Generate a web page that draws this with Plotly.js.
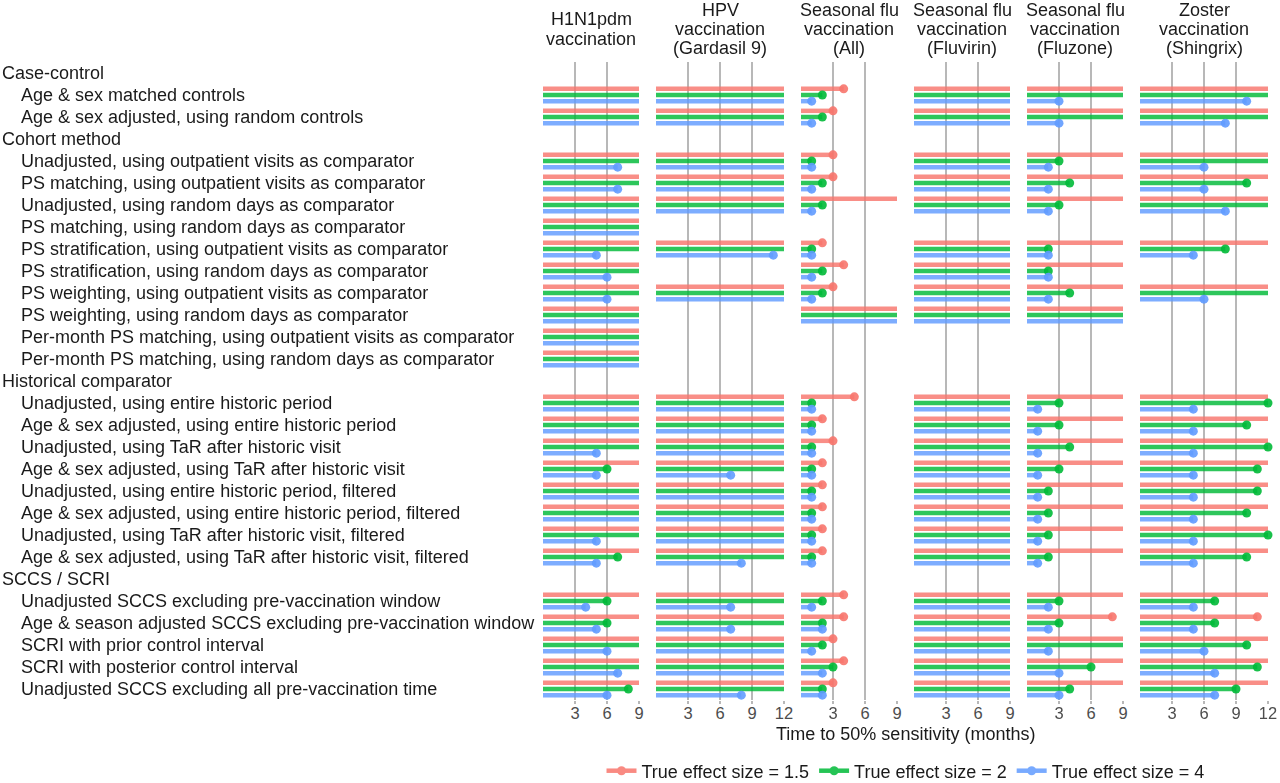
<!DOCTYPE html>
<html>
<head>
<meta charset="utf-8">
<script src="https://cdn.plot.ly/plotly-3.0.1.min.js"></script>
<style>
  html, body { margin: 0; padding: 0; background: #fff; }
  #chart { width: 1280px; height: 783px; }
</style>
</head>
<body>
<div id="chart"></div>
<script>
// NR = not reached inside the panel's follow-up, bar runs to the end with no dot
// NA = method not run for that vaccine
var NR = Infinity;
var NA = null;

var groups = ['Case-control', 'Cohort method', 'Historical comparator', 'SCCS / SCRI'];
var methods = [
  'Age & sex matched controls',
  'Age & sex adjusted, using random controls',
  'Unadjusted, using outpatient visits as comparator',
  'PS matching, using outpatient visits as comparator',
  'Unadjusted, using random days as comparator',
  'PS matching, using random days as comparator',
  'PS stratification, using outpatient visits as comparator',
  'PS stratification, using random days as comparator',
  'PS weighting, using outpatient visits as comparator',
  'PS weighting, using random days as comparator',
  'Per-month PS matching, using outpatient visits as comparator',
  'Per-month PS matching, using random days as comparator',
  'Unadjusted, using entire historic period',
  'Age & sex adjusted, using entire historic period',
  'Unadjusted, using TaR after historic visit',
  'Age & sex adjusted, using TaR after historic visit',
  'Unadjusted, using entire historic period, filtered',
  'Age & sex adjusted, using entire historic period, filtered',
  'Unadjusted, using TaR after historic visit, filtered',
  'Age & sex adjusted, using TaR after historic visit, filtered',
  'Unadjusted SCCS excluding pre-vaccination window',
  'Age & season adjusted SCCS excluding pre-vaccination window',
  'SCRI with prior control interval',
  'SCRI with posterior control interval',
  'Unadjusted SCCS excluding all pre-vaccination time'
];
var methodGroup = [0,0, 1,1,1,1,1,1,1,1,1,1, 2,2,2,2,2,2,2,2, 3,3,3,3,3];

var panelTitles = [
  'H1N1pdm<br>vaccination',
  'HPV<br>vaccination<br>(Gardasil 9)',
  'Seasonal flu<br>vaccination<br>(All)',
  'Seasonal flu<br>vaccination<br>(Fluvirin)',
  'Seasonal flu<br>vaccination<br>(Fluzone)',
  'Zoster<br>vaccination<br>(Shingrix)'
];
var panelMax = [9, 12, 9, 9, 9, 12];
var ticks9 = [3, 6, 9];
var ticks12 = [3, 6, 9, 12];

var effectNames = ['True effect size = 1.5', 'True effect size = 2', 'True effect size = 4'];
var colors = ['#F8766D', '#00BA38', '#619CFF'];

// months to 50% sensitivity, one entry per method
var h1n1_15 = [NR,NR, NR,NR,NR,NR,NR,NR,NR,NR,NR,NR, NR,NR,NR,NR,NR,NR,NR,NR, NR,NR,NR,NR,NR];
var h1n1_2  = [NR,NR, NR,NR,NR,NR,NR,NR,NR,NR,NR,NR, NR,NR,NR,6,NR,NR,NR,7, 6,6,NR,NR,8];
var h1n1_4  = [NR,NR, 7,7,NR,NR,5,6,6,NR,NR,NR, NR,NR,5,5,NR,NR,5,5, 4,5,6,7,6];

var hpv_15 = [NR,NR, NR,NR,NR,NA,NR,NA,NR,NA,NA,NA, NR,NR,NR,NR,NR,NR,NR,NR, NR,NR,NR,NR,NR];
var hpv_2  = [NR,NR, NR,NR,NR,NA,NR,NA,NR,NA,NA,NA, NR,NR,NR,NR,NR,NR,NR,NR, NR,NR,NR,NR,NR];
var hpv_4  = [NR,NR, NR,NR,NR,NA,11,NA,NR,NA,NA,NA, NR,NR,NR,7,NR,NR,NR,8, 7,7,NR,NR,8];

var fluAll_15 = [4,3, 3,3,NR,NA,2,4,3,NR,NA,NA, 5,2,3,2,2,2,2,2, 4,4,3,4,3];
var fluAll_2  = [2,2, 1,2,2,NA,1,2,2,NR,NA,NA, 1,1,1,1,1,1,1,1, 2,2,2,3,2];
var fluAll_4  = [1,1, 1,1,1,NA,1,1,1,NR,NA,NA, 1,1,1,1,1,1,1,1, 1,2,1,2,2];

var fluvirin_15 = [NR,NR, NR,NR,NR,NA,NR,NR,NR,NR,NA,NA, NR,NR,NR,NR,NR,NR,NR,NR, NR,NR,NR,NR,NR];
var fluvirin_2  = [NR,NR, NR,NR,NR,NA,NR,NR,NR,NR,NA,NA, NR,NR,NR,NR,NR,NR,NR,NR, NR,NR,NR,NR,NR];
var fluvirin_4  = [NR,NR, NR,NR,NR,NA,NR,NR,NR,NR,NA,NA, NR,NR,NR,NR,NR,NR,NR,NR, NR,NR,NR,NR,NR];

var fluzone_15 = [NR,NR, NR,NR,NR,NA,NR,NR,NR,NR,NA,NA, NR,NR,NR,NR,NR,NR,NR,NR, NR,8,NR,NR,NR];
var fluzone_2  = [NR,NR, 3,4,3,NA,2,2,4,NR,NA,NA, 3,3,4,3,2,2,2,2, 3,3,NR,6,4];
var fluzone_4  = [3,3, 2,2,2,NA,2,2,2,NR,NA,NA, 1,1,1,1,1,1,1,1, 2,2,2,3,3];

var zoster_15 = [NR,NR, NR,NR,NR,NA,NR,NA,NR,NA,NA,NA, NR,NR,NR,NR,NR,NR,NR,NR, NR,11,NR,NR,NR];
var zoster_2  = [NR,NR, NR,10,NR,NA,8,NA,NR,NA,NA,NA, 12,10,12,11,11,10,12,10, 7,7,10,11,9];
var zoster_4  = [10,8, 6,6,8,NA,5,NA,6,NA,NA,NA, 5,5,5,5,5,5,5,5, 5,5,6,7,7];

var panelData = [
  [h1n1_15, h1n1_2, h1n1_4],
  [hpv_15, hpv_2, hpv_4],
  [fluAll_15, fluAll_2, fluAll_4],
  [fluvirin_15, fluvirin_2, fluvirin_4],
  [fluzone_15, fluzone_2, fluzone_4],
  [zoster_15, zoster_2, zoster_4]
];

// layout geometry
var W = 1280, H = 783;
var mL = 543, mR = 12, mT = 62, mB = 83;
var plotW = W - mL - mR, plotH = H - mT - mB;
var gapPx = 17;
var FONT = 'Liberation Sans, Arial, sans-serif';

// row numbers: group header then its methods
var rowLabels = [];
var methodRow = [];
var r = 1;
groups.forEach(function(g, gi) {
  rowLabels.push({text: g, row: r, header: true});
  r++;
  methods.forEach(function(m, mi) {
    if (methodGroup[mi] == gi) {
      methodRow[mi] = r;
      rowLabels.push({text: m, row: r, header: false});
      r++;
    }
  });
});
var nRows = r - 1;

var dodge = [-0.28, 0, 0.28];

var totalUnits = panelMax.reduce(function(a, b) { return a + b; }, 0);
var gapFrac = gapPx / plotW;
var unitFrac = (1 - gapFrac * (panelMax.length - 1)) / totalUnits;

// pixel row (from top of page) -> paper y
function paperY(px) { return (H - mB - px) / plotH; }

var traces = [];
var layout = {
  width: W, height: H,
  margin: {l: mL, r: mR, t: mT, b: mB, autoexpand: false},
  paper_bgcolor: '#fff', plot_bgcolor: '#fff',
  font: {family: FONT, size: 18, color: '#1a1a1a'},
  showlegend: true,
  legend: {
    orientation: 'h', x: 0.5, xanchor: 'center',
    y: paperY(771), yanchor: 'middle', yref: 'paper',
    font: {size: 18, color: '#1a1a1a'},
    itemwidth: 30, tracegroupgap: 0
  },
  yaxis: {
    range: [nRows + 0.5, 0.5],
    showgrid: false, zeroline: false, showticklabels: false, ticks: '',
    fixedrange: true
  },
  annotations: [],
  hovermode: false
};

var start = 0;
panelMax.forEach(function(max, p) {
  var axName = p == 0 ? 'x' : 'x' + (p + 1);
  var key = p == 0 ? 'xaxis' : 'xaxis' + (p + 1);
  var d0 = start, d1 = start + max * unitFrac;
  start = d1 + gapFrac;
  layout[key] = {
    domain: [d0, Math.min(d1, 1)],
    range: [0, max],
    anchor: 'y',
    tickvals: max == 12 ? ticks12 : ticks9,
    ticktext: (max == 12 ? ticks12 : ticks9).map(String),
    showgrid: true, gridcolor: '#b8b8b8', gridwidth: 1.5,
    zeroline: false, showline: false,
    ticks: 'outside', ticklen: 3, tickcolor: '#b8b8b8', tickwidth: 1.5,
    ticklabelstandoff: -5,
    tickfont: {size: 16.5, color: '#4d4d4d'},
    fixedrange: true
  };

  panelData[p].forEach(function(vals, s) {
    var lx = [], ly = [], mx = [], my = [];
    vals.forEach(function(v, mi) {
      if (v === null) return;
      var yy = methodRow[mi] + dodge[s];
      var end = isFinite(v) ? v : max;
      lx.push(0, end, null);
      ly.push(yy, yy, null);
      if (isFinite(v)) { mx.push(v); my.push(yy); }
    });
    traces.push({
      type: 'scatter', mode: 'lines', xaxis: axName, yaxis: 'y',
      x: lx, y: ly, showlegend: false, opacity: 0.82,
      line: {color: colors[s], width: 4.5}
    });
    traces.push({
      type: 'scatter', mode: 'markers', xaxis: axName, yaxis: 'y',
      x: mx, y: my, showlegend: false, opacity: 0.9, cliponaxis: false,
      marker: {color: colors[s], size: 9}
    });
  });

  // facet strip title, one annotation per line
  var lines = panelTitles[p].split('<br>');
  var mid = (lines.length - 1) / 2;
  lines.forEach(function(t, li) {
    var py = 29 + (li - mid) * 19.5;
    layout.annotations.push({
      text: t, xref: 'paper', yref: 'paper',
      x: (d0 + d1) / 2, y: paperY(py),
      xanchor: 'center', yanchor: 'middle', showarrow: false,
      font: {size: 18, color: '#1a1a1a'}
    });
  });
});

// legend entries
effectNames.forEach(function(name, s) {
  traces.push({
    type: 'scatter', mode: 'lines+markers', x: [null], y: [null],
    name: name, opacity: 0.85,
    line: {color: colors[s], width: 4.5},
    marker: {color: colors[s], size: 9}
  });
});

// row labels on the left
rowLabels.forEach(function(lb) {
  layout.annotations.push({
    text: lb.text, xref: 'paper', yref: 'y',
    x: -mL / plotW, y: lb.row,
    xanchor: 'left', yanchor: 'middle', showarrow: false,
    xshift: lb.header ? 0 : 19,
    font: {size: 18, color: '#1a1a1a'}
  });
});

// shared x title
layout.annotations.push({
  text: 'Time to 50% sensitivity (months)', xref: 'paper', yref: 'paper',
  x: 0.5, y: paperY(734),
  xanchor: 'center', yanchor: 'middle', showarrow: false,
  font: {size: 18, color: '#1a1a1a'}
});

Plotly.newPlot('chart', traces, layout, {displayModeBar: false, staticPlot: true});
</script>
</body>
</html>
